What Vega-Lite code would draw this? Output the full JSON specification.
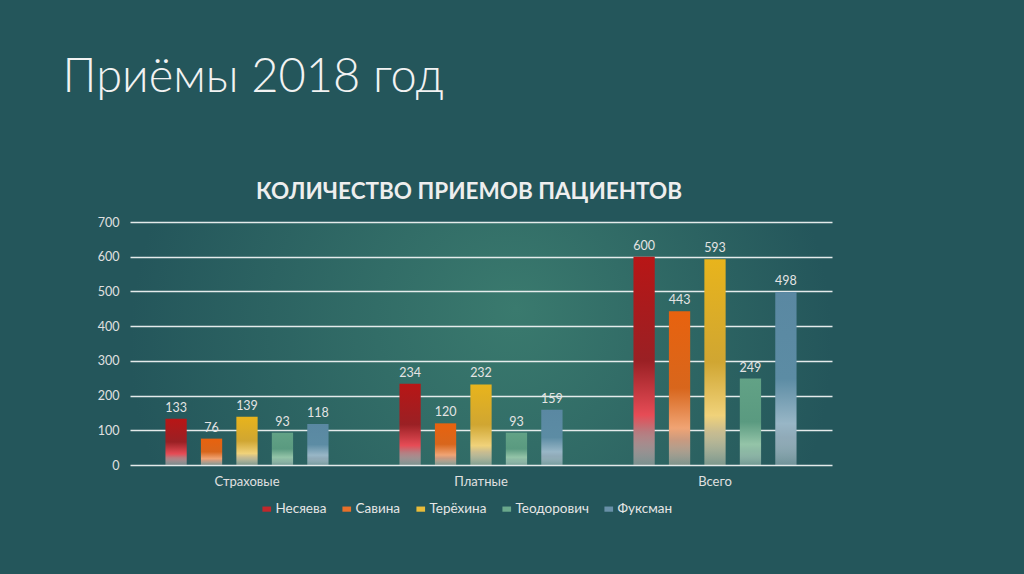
{
  "$schema": "https://vega.github.io/schema/vega-lite/v6.json",
  "autosize": "none",
  "width": 702,
  "height": 243,
  "padding": {"left": 130, "top": 222, "right": 192, "bottom": 109},
  "background": "#24565b",
  "title": {
    "text": "КОЛИЧЕСТВО ПРИЕМОВ ПАЦИЕНТОВ",
    "anchor": "middle",
    "frame": "group",
    "dx": -12,
    "dy": 174,
    "offset": 24,
    "fontSize": 22.5,
    "font": "Lato",
    "fontWeight": "bold",
    "color": "#eeeeee"
  },
  "data": {
    "values": [
      {"category": "Страховые", "doctor": "Несяева", "value": 133},
      {"category": "Страховые", "doctor": "Савина", "value": 76},
      {"category": "Страховые", "doctor": "Терёхина", "value": 139},
      {"category": "Страховые", "doctor": "Теодорович", "value": 93},
      {"category": "Страховые", "doctor": "Фуксман", "value": 118},
      {"category": "Платные", "doctor": "Несяева", "value": 234},
      {"category": "Платные", "doctor": "Савина", "value": 120},
      {"category": "Платные", "doctor": "Терёхина", "value": 232},
      {"category": "Платные", "doctor": "Теодорович", "value": 93},
      {"category": "Платные", "doctor": "Фуксман", "value": 159},
      {"category": "Всего", "doctor": "Несяева", "value": 600},
      {"category": "Всего", "doctor": "Савина", "value": 443},
      {"category": "Всего", "doctor": "Терёхина", "value": 593},
      {"category": "Всего", "doctor": "Теодорович", "value": 249},
      {"category": "Всего", "doctor": "Фуксман", "value": 498}
    ]
  },
  "encoding": {
    "x": {
      "field": "category",
      "type": "nominal",
      "sort": ["Страховые", "Платные", "Всего"],
      "scale": {"paddingInner": 0, "paddingOuter": 0},
      "axis": {
        "title": null,
        "labelAngle": 0,
        "labelColor": "#e0e0e0",
        "labelFontSize": 13,
        "labelFont": "Lato",
        "labelPadding": 10,
        "domain": false,
        "ticks": false
      }
    },
    "xOffset": {
      "field": "doctor",
      "type": "nominal",
      "scale": {
        "domain": ["Несяева", "Савина", "Терёхина", "Теодорович", "Фуксман"],
        "paddingInner": 0.4,
        "paddingOuter": 1.04
      }
    },
    "y": {
      "field": "value",
      "type": "quantitative",
      "scale": {"domain": [0, 700]},
      "axis": {
        "values": [0, 100, 200, 300, 400, 500, 600, 700],
        "title": "Приёмы 2018 год",
        "titleAngle": 0,
        "titleX": -68,
        "titleY": -131,
        "titleAlign": "left",
        "titleBaseline": "alphabetic",
        "titleFontSize": 47,
        "titleFont": "Lato",
        "titleFontWeight": 300,
        "titleColor": "#f2f2f2",
        "labelColor": "#e0e0e0",
        "labelFontSize": 12.5,
        "labelFont": "Lato",
        "labelPadding": 11,
        "domain": false,
        "ticks": false,
        "gridColor": "#eef2f2",
        "gridWidth": 1.5,
        "gridOpacity": 0.95
      }
    }
  },
  "layer": [
    {
      "transform": [{"filter": "datum.doctor === 'Несяева'"}],
      "mark": {"type": "bar", "color": {"gradient": "linear", "x1": 0, "y1": 0, "x2": 0, "y2": 1, "stops": [
        {"offset": 0, "color": "#b81616"},
        {"offset": 0.5, "color": "#9a2024"},
        {"offset": 0.76, "color": "#e64c56"},
        {"offset": 0.84, "color": "#b87a7e"},
        {"offset": 1, "color": "rgba(215,195,195,0.45)"}
      ]}}
    },
    {
      "transform": [{"filter": "datum.doctor === 'Савина'"}],
      "mark": {"type": "bar", "color": {"gradient": "linear", "x1": 0, "y1": 0, "x2": 0, "y2": 1, "stops": [
        {"offset": 0, "color": "#e8620e"},
        {"offset": 0.5, "color": "#d8661c"},
        {"offset": 0.76, "color": "#f0a474"},
        {"offset": 0.84, "color": "#c89a80"},
        {"offset": 1, "color": "rgba(225,205,190,0.45)"}
      ]}}
    },
    {
      "transform": [{"filter": "datum.doctor === 'Терёхина'"}],
      "mark": {"type": "bar", "color": {"gradient": "linear", "x1": 0, "y1": 0, "x2": 0, "y2": 1, "stops": [
        {"offset": 0, "color": "#e8b41c"},
        {"offset": 0.5, "color": "#d0a632"},
        {"offset": 0.76, "color": "#f0d27a"},
        {"offset": 0.84, "color": "#c8bc90"},
        {"offset": 1, "color": "rgba(225,220,195,0.45)"}
      ]}}
    },
    {
      "transform": [{"filter": "datum.doctor === 'Теодорович'"}],
      "mark": {"type": "bar", "color": {"gradient": "linear", "x1": 0, "y1": 0, "x2": 0, "y2": 1, "stops": [
        {"offset": 0, "color": "#62a286"},
        {"offset": 0.5, "color": "#5a9a80"},
        {"offset": 0.76, "color": "#94c4a8"},
        {"offset": 0.84, "color": "#8cb8a4"},
        {"offset": 1, "color": "rgba(200,225,210,0.45)"}
      ]}}
    },
    {
      "transform": [{"filter": "datum.doctor === 'Фуксман'"}],
      "mark": {"type": "bar", "color": {"gradient": "linear", "x1": 0, "y1": 0, "x2": 0, "y2": 1, "stops": [
        {"offset": 0, "color": "#5a88a2"},
        {"offset": 0.5, "color": "#5c8ca4"},
        {"offset": 0.76, "color": "#98b6c6"},
        {"offset": 0.84, "color": "#90aab8"},
        {"offset": 1, "color": "rgba(200,215,225,0.45)"}
      ]}}
    },
    {
      "mark": {"type": "square", "opacity": 0, "size": 1},
      "encoding": {
        "color": {
          "field": "doctor",
          "type": "nominal",
          "scale": {
            "domain": ["Несяева", "Савина", "Терёхина", "Теодорович", "Фуксман"],
            "range": ["#c0282c", "#e8702a", "#e8bc3a", "#6aa88c", "#6890a8"]
          },
          "legend": {
            "orient": "none",
            "legendX": 130,
            "legendY": 280,
            "direction": "horizontal",
            "title": null,
            "labelColor": "#e6e6e6",
            "labelFontSize": 13.5,
            "labelFont": "Lato",
            "symbolType": "M-1,-0.6H1V0.6H-1Z",
            "symbolSize": 75,
            "symbolStrokeWidth": 0,
            "symbolOpacity": 1,
            "columnPadding": 13,
            "labelOffset": 2,
            "encode": {
              "symbols": {"update": {"opacity": {"value": 1}}}
            }
          }
        }
      }
    },
    {
      "mark": {"type": "text", "baseline": "alphabetic", "dy": -7, "fontSize": 12.5, "font": "Lato", "color": "#e4e4e4"},
      "encoding": {
        "text": {"field": "value", "type": "quantitative"}
      }
    }
  ],
  "config": {
    "view": {
      "stroke": null,
      "fill": {"gradient": "radial", "x1": 0.55, "y1": 0.45, "r1": 0, "x2": 0.5, "y2": 0.5, "r2": 0.5, "stops": [
        {"offset": 0, "color": "#3a7a6e"},
        {"offset": 1, "color": "#24565b"}
      ]}
    }
  }
}
